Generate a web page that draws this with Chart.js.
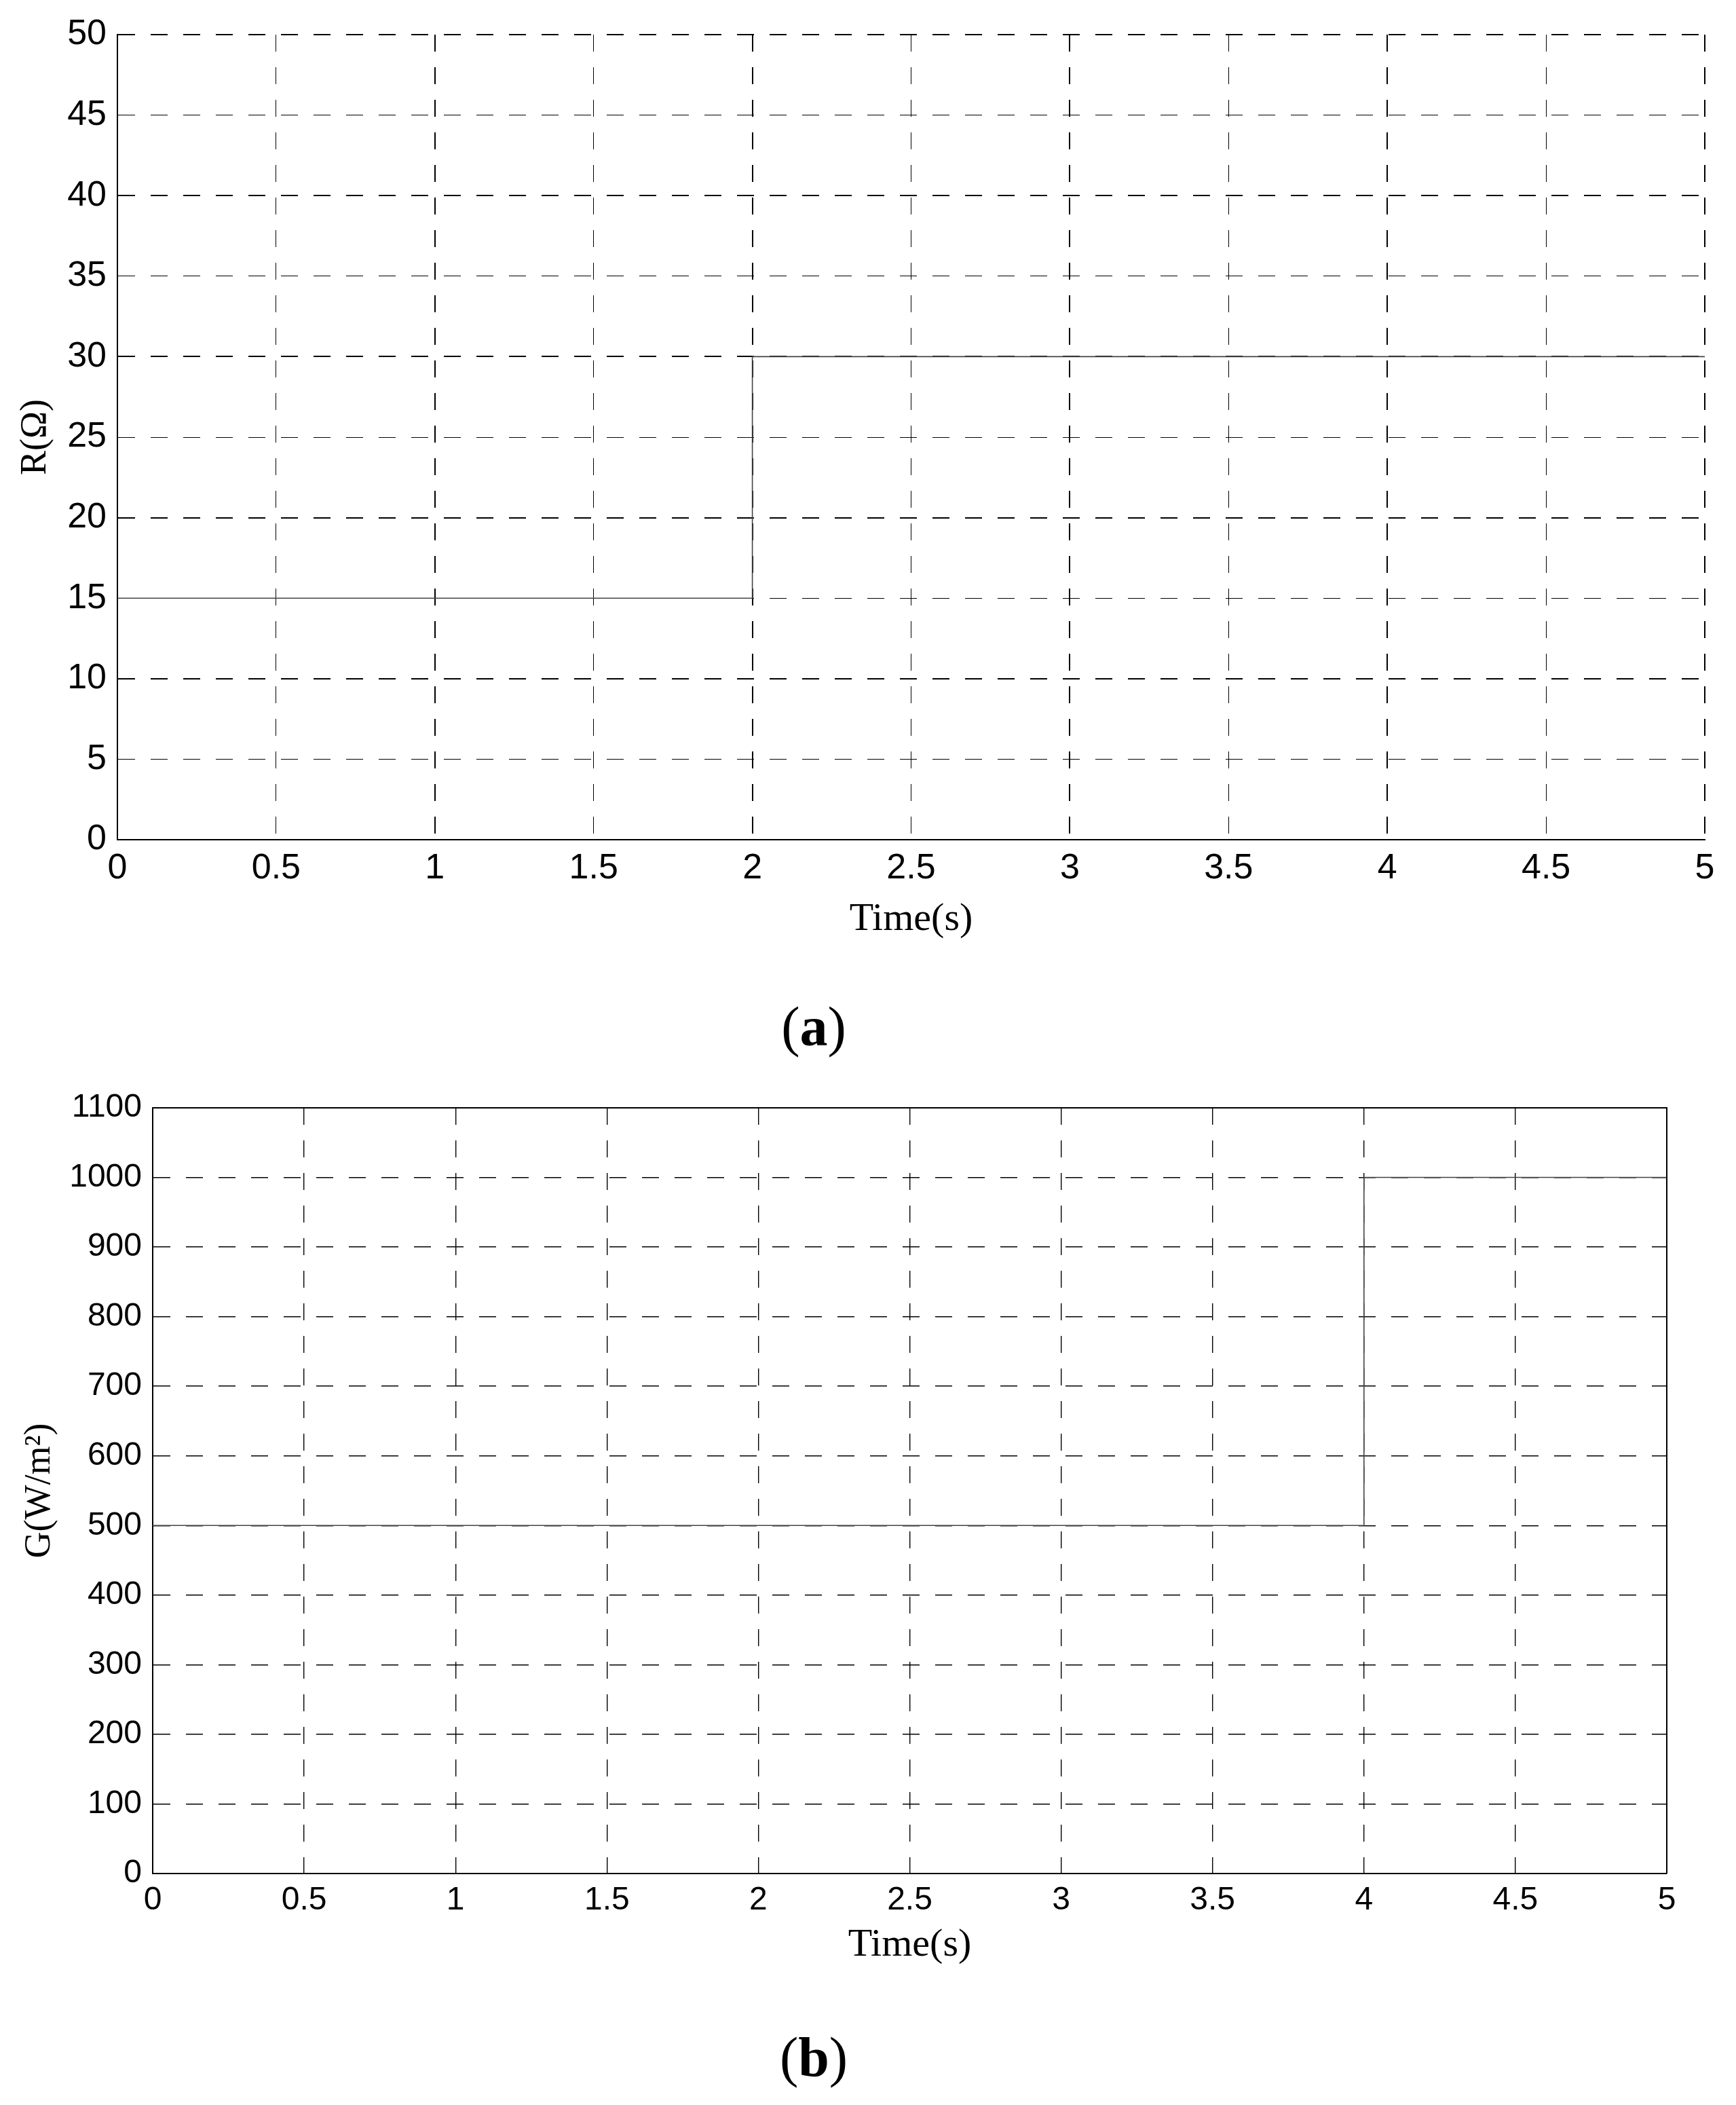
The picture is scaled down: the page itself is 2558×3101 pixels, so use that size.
<!DOCTYPE html>
<html>
<head>
<meta charset="utf-8">
<script src="https://cdn.jsdelivr.net/npm/chart.js@4.4.1/dist/chart.umd.min.js"></script>
<style>
  body { margin: 0; background: #fff; width: 2558px; height: 3101px; position: relative; overflow: hidden; }
  .panel { position: absolute; left: 0; }
  .caption { position: absolute; transform: translateX(-50%); font-family: "Liberation Serif", "Times New Roman", serif; font-size: 82px; line-height: 94px; color: #000; }
</style>
</head>
<body>
<div class="panel" style="top:0px"><canvas id="chartA" width="2558" height="1430"></canvas></div>
<div class="caption" style="left:1199px; top:1466px">(<b>a</b>)</div>
<div class="panel" style="top:1540px"><canvas id="chartB" width="2558" height="1380"></canvas></div>
<div class="caption" style="left:1199px; top:2984px">(<b>b</b>)</div>

<script>
// --- Data ---
const timeTicks = [0, 0.5, 1, 1.5, 2, 2.5, 3, 3.5, 4, 4.5, 5];
const resistanceTicks = [0, 5, 10, 15, 20, 25, 30, 35, 40, 45, 50];
const irradianceTicks = [0, 100, 200, 300, 400, 500, 600, 700, 800, 900, 1000, 1100];

// (a) load resistance step
const timeA = [0, 2, 2, 5];
const resistance = [15, 15, 30, 30];

// (b) irradiance step
const timeB = [0, 4, 4, 5];
const irradiance = [500, 500, 1000, 1000];

// --- Helpers ---
const SANS = '"Liberation Sans", Arial, sans-serif';
const SERIF = '"Liberation Serif", "Times New Roman", serif';

// solid top + right frame (only panel b has it)
const frameBox = {
  id: 'frameBox',
  afterDraw(chart, args, opts) {
    if (!opts.draw) return;
    const { ctx, chartArea: a } = chart;
    ctx.save();
    ctx.strokeStyle = '#000';
    ctx.lineWidth = 2;
    ctx.beginPath();
    ctx.moveTo(a.left, a.top);
    ctx.lineTo(a.right, a.top);
    ctx.lineTo(a.right, a.bottom);
    ctx.stroke();
    ctx.restore();
  }
};

function toPoints(xs, ys) {
  return xs.map((x, i) => ({ x: x, y: ys[i] }));
}

function makeChart(id, cfg) {
  return new Chart(document.getElementById(id), {
    type: 'line',
    data: {
      datasets: [{
        data: toPoints(cfg.xs, cfg.ys),
        borderColor: '#444',
        borderWidth: 1.6,
        pointRadius: 0,
        tension: 0,
        fill: false
      }]
    },
    options: {
      responsive: false,
      animation: false,
      devicePixelRatio: 1,
      layout: { padding: cfg.padding },
      plugins: {
        legend: { display: false },
        tooltip: { enabled: false },
        frameBox: { draw: cfg.frame }
      },
      scales: {
        x: {
          type: 'linear',
          min: 0, max: 5,
          afterBuildTicks: s => { s.ticks = timeTicks.map(v => ({ value: v })); },
          afterFit: s => { s.height = cfg.xHeight; },
          ticks: { color: '#000', padding: cfg.xTickPad, font: { family: SANS, size: cfg.xTickSize }, callback: v => String(v) },
          grid: { color: '#000', drawTicks: false, lineWidth: cfg.gridX },
          border: { color: '#000', width: 2, dash: [25, 23] },
          title: { display: true, text: 'Time(s)', color: '#000', padding: { top: 0, bottom: cfg.xTitlePad }, font: { family: SERIF, size: 58 } }
        },
        y: {
          min: 0, max: cfg.yMax,
          afterBuildTicks: s => { s.ticks = cfg.yTicks.map(v => ({ value: v })); },
          afterFit: s => { s.width = cfg.yWidth; },
          ticks: { color: '#000', padding: 16, font: { family: SANS, size: cfg.yTickSize }, callback: v => String(v) },
          grid: { color: '#000', drawTicks: false, lineWidth: cfg.gridY },
          border: { color: '#000', width: 2, dash: [25, 23] },
          title: { display: true, text: cfg.yTitle, color: '#000', padding: { top: cfg.yTitlePad, bottom: 0 }, font: { family: SERIF, size: 54 } }
        }
      }
    },
    plugins: [frameBox]
  });
}

const wide = c => (c.tick && Number.isInteger(c.tick.value)) ? 2 : 1;
const wideY = c => (c.tick && c.tick.value % 10 === 0) ? 2 : 1;

makeChart('chartA', {
  xs: timeA, ys: resistance,
  yMax: 50, yTicks: resistanceTicks, yTitle: 'R(Ω)',
  padding: { top: 51, right: 46, bottom: 0, left: 0 },
  yWidth: 173, xHeight: 193,
  xTickPad: 11, xTickSize: 52, yTickSize: 52,
  xTitlePad: 40, yTitlePad: 20,
  gridX: wide, gridY: wideY,
  frame: false
});

makeChart('chartB', {
  xs: timeB, ys: irradiance,
  yMax: 1100, yTicks: irradianceTicks, yTitle: 'G(W/m²)',
  padding: { top: 92, right: 102, bottom: 0, left: 0 },
  yWidth: 225, xHeight: 160,
  xTickPad: 11, xTickSize: 48, yTickSize: 48,
  xTitlePad: 19, yTitlePad: 26,
  gridX: 1.4, gridY: 1.4,
  frame: true
});
</script>
</body>
</html>
